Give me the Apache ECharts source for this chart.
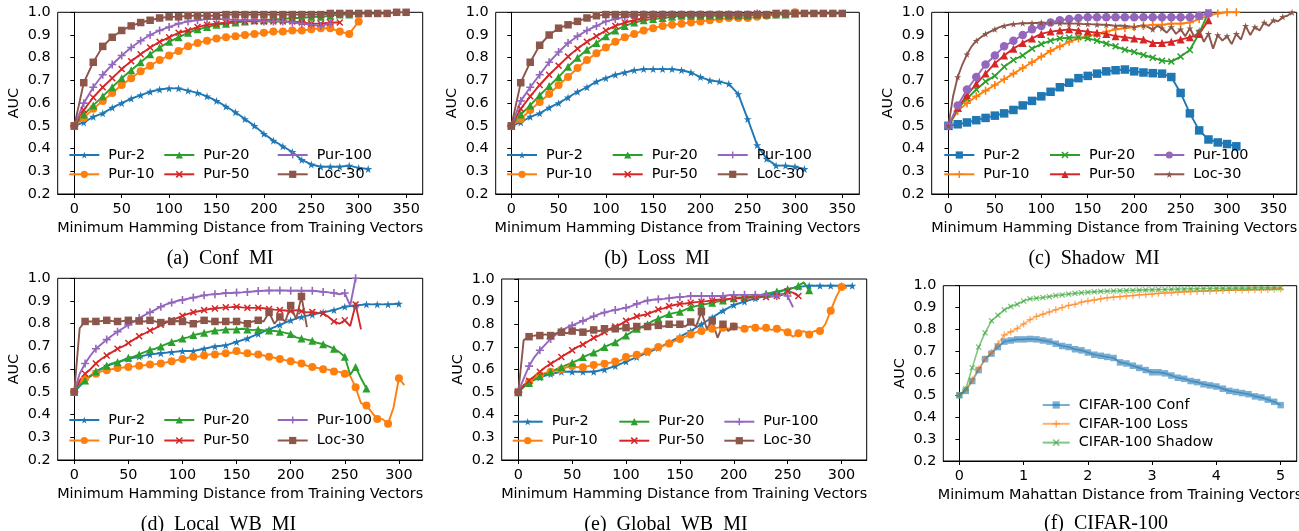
<!DOCTYPE html>
<html>
<head>
<meta charset="utf-8">
<script src="https://cdn.jsdelivr.net/npm/echarts@6/dist/echarts.min.js"></script>
<style>
  html, body { margin: 0; padding: 0; background: #fff; }
  #chart { width: 1299px; height: 531px; }
</style>
</head>
<body>
<div id="chart"></div>
<script>
// ---- data (AUC) ----
// step 10 unless noted
const confPur2 = [0.50,0.515,0.54,0.555,0.58,0.60,0.62,0.635,0.65,0.66,0.665,0.665,0.655,0.645,0.63,0.61,0.585,0.56,0.53,0.50,0.465,0.435,0.41,0.385,0.35,0.33,0.32,0.32,0.32,0.325,0.315,0.31]
const confPur10 = [0.50,0.535,0.575,0.61,0.645,0.68,0.71,0.74,0.765,0.79,0.81,0.83,0.85,0.865,0.875,0.885,0.89,0.895,0.90,0.905,0.91,0.915,0.915,0.92,0.92,0.925,0.93,0.93,0.915,0.905,0.96]
const confPur20 = [0.50,0.55,0.59,0.63,0.67,0.71,0.745,0.78,0.815,0.845,0.87,0.89,0.91,0.925,0.935,0.945,0.95,0.955,0.96,0.965,0.965,0.97,0.97,0.975,0.975,0.98,0.98,0.985,0.99,0.99,0.995]
const confPur50 = [0.50,0.57,0.625,0.67,0.71,0.75,0.785,0.815,0.845,0.87,0.89,0.91,0.92,0.935,0.945,0.95,0.955,0.96,0.96,0.96,0.96,0.96,0.96,0.96,0.955,0.95,0.95,0.955,0.955]
const confPur100 = [0.50,0.60,0.67,0.725,0.77,0.81,0.845,0.875,0.90,0.92,0.935,0.95,0.96,0.965,0.97,0.97,0.97,0.965,0.965,0.965,0.96,0.96,0.96,0.955,0.95,0.945,0.94,0.95]
const confLoc30 = [0.50,0.69,0.78,0.85,0.89,0.92,0.94,0.955,0.965,0.975,0.98,0.98,0.985,0.985,0.985,0.985,0.99,0.99,0.99,0.99,0.99,0.99,0.99,0.99,0.99,0.99,0.99,0.995,0.995,0.995,0.995,0.995,0.995,0.995,1.0,1.0]

const lossPur2 = [0.50,0.515,0.54,0.555,0.58,0.60,0.625,0.65,0.67,0.695,0.71,0.725,0.735,0.745,0.75,0.75,0.75,0.75,0.745,0.735,0.715,0.70,0.695,0.685,0.64,0.53,0.415,0.355,0.325,0.325,0.32,0.31]
const lossPur10 = [0.50,0.53,0.57,0.605,0.64,0.68,0.715,0.755,0.79,0.82,0.845,0.87,0.89,0.905,0.92,0.93,0.94,0.945,0.95,0.955,0.96,0.965,0.97,0.975,0.975,0.975,0.98,0.985,0.99,0.995,1.0]
const lossPur20 = [0.50,0.55,0.59,0.635,0.675,0.715,0.76,0.80,0.835,0.865,0.895,0.92,0.94,0.955,0.965,0.97,0.975,0.98,0.985,0.985,0.985,0.985,0.985,0.985,0.985,0.985,0.99,0.99,0.99,0.99,0.995]
const lossPur50 = [0.50,0.575,0.63,0.68,0.725,0.765,0.805,0.84,0.87,0.895,0.92,0.94,0.955,0.965,0.975,0.98,0.985,0.99,0.99,0.99,0.99,0.99,0.99,0.99,0.99,0.99,0.995]
const lossPur100 = [0.50,0.61,0.67,0.725,0.78,0.825,0.865,0.895,0.92,0.94,0.96,0.97,0.98,0.985,0.99,0.99,0.99,0.99,0.99,0.99,0.99,0.99,0.99,0.99,0.99,0.99,0.995]
const lossLoc30 = [0.50,0.69,0.78,0.855,0.90,0.93,0.945,0.96,0.975,0.985,0.99,0.99,0.99,0.99,0.99,0.99,0.99,0.99,0.99,0.99,0.99,0.99,0.99,0.99,0.99,0.99,0.99,0.99,0.995,0.995,0.995,0.995,0.995,0.995,0.995,0.995]

const shadowPur2 = [0.50,0.507,0.515,0.525,0.535,0.545,0.555,0.57,0.59,0.61,0.63,0.65,0.67,0.69,0.71,0.72,0.73,0.74,0.745,0.748,0.74,0.735,0.732,0.73,0.715,0.645,0.555,0.48,0.44,0.427,0.42,0.41]
const shadowPur10 = [0.50,0.565,0.60,0.63,0.655,0.68,0.705,0.73,0.755,0.78,0.805,0.83,0.85,0.87,0.885,0.895,0.905,0.915,0.925,0.93,0.935,0.94,0.945,0.945,0.95,0.95,0.955,0.97,0.985,0.995,1.0,1.0]
const shadowPur20 = [0.50,0.575,0.62,0.66,0.695,0.72,0.76,0.79,0.81,0.84,0.86,0.875,0.885,0.888,0.89,0.885,0.875,0.862,0.85,0.835,0.825,0.812,0.80,0.787,0.783,0.805,0.834,0.908,1.0]
const shadowPur50 = [0.50,0.58,0.635,0.685,0.73,0.775,0.81,0.84,0.865,0.885,0.905,0.915,0.92,0.925,0.92,0.915,0.91,0.905,0.895,0.89,0.885,0.88,0.865,0.865,0.87,0.88,0.89,0.905,0.965]
const shadowPur100 = [0.50,0.59,0.66,0.715,0.77,0.81,0.85,0.875,0.90,0.925,0.94,0.955,0.965,0.97,0.975,0.978,0.978,0.978,0.978,0.978,0.978,0.978,0.978,0.978,0.978,0.978,0.978,0.985,0.995]
// step 5
const shadowLoc30 = [0.50,0.63,0.715,0.77,0.815,0.85,0.875,0.89,0.905,0.915,
  0.925,0.935,0.94,0.945,0.948,0.95,0.952,0.952,0.953,0.953,
  0.955,0.953,0.953,0.952,0.952,0.951,0.95,0.95,0.95,0.948,
  0.948,0.947,0.946,0.945,0.945,0.943,0.94,0.942,0.94,0.938,
  0.935,0.94,0.942,0.935,0.925,0.94,0.93,0.91,0.935,0.905,
  0.925,0.895,0.93,0.89,0.92,0.87,0.905,0.84,0.90,0.875,
  0.895,0.86,0.905,0.88,0.94,0.90,0.935,0.92,0.955,0.94,
  0.965,0.96,0.98,0.985,1.0]

const localPur2 = [0.50,0.55,0.59,0.615,0.63,0.645,0.655,0.665,0.67,0.675,0.68,0.68,0.69,0.70,0.705,0.72,0.735,0.755,0.775,0.795,0.815,0.83,0.84,0.85,0.86,0.875,0.88,0.885,0.885,0.885,0.888]
// step 5
const localPur10 = [0.50,0.54,0.56,0.57,0.58,0.59,0.595,0.60,0.605,0.607,
  0.61,0.612,0.615,0.617,0.62,0.622,0.625,0.63,0.635,0.64,
  0.645,0.65,0.655,0.655,0.66,0.665,0.665,0.668,0.67,0.672,
  0.68,0.67,0.67,0.665,0.665,0.66,0.655,0.65,0.645,0.64,
  0.635,0.63,0.625,0.615,0.61,0.605,0.60,0.598,0.59,0.588,
  0.58,0.57,0.52,0.45,0.44,0.41,0.38,0.38,0.36,0.43,
  0.56,0.53]
const localPur20 = [0.50,0.53,0.55,0.57,0.59,0.60,0.615,0.625,0.63,0.64,
  0.65,0.655,0.665,0.675,0.685,0.69,0.70,0.71,0.72,0.725,
  0.735,0.74,0.75,0.755,0.76,0.765,0.77,0.772,0.775,0.775,
  0.775,0.778,0.775,0.772,0.775,0.77,0.77,0.768,0.765,0.76,
  0.755,0.74,0.735,0.73,0.725,0.715,0.71,0.70,0.69,0.675,
  0.655,0.575,0.61,0.56,0.515]
const localPur50 = [0.50,0.55,0.58,0.60,0.625,0.645,0.66,0.675,0.69,0.70,
  0.715,0.73,0.745,0.757,0.77,0.78,0.795,0.805,0.815,0.825,
  0.835,0.843,0.85,0.855,0.86,0.865,0.867,0.87,0.872,0.873,
  0.875,0.872,0.87,0.87,0.87,0.868,0.865,0.862,0.86,0.858,
  0.855,0.86,0.855,0.85,0.852,0.848,0.845,0.83,0.81,0.80,
  0.815,0.79,0.885,0.775]
const localPur100 = [0.50,0.58,0.625,0.66,0.69,0.71,0.73,0.748,0.765,0.78,
  0.795,0.81,0.825,0.838,0.85,0.862,0.875,0.885,0.893,0.90,
  0.905,0.91,0.915,0.92,0.925,0.928,0.93,0.932,0.935,0.935,
  0.937,0.938,0.94,0.942,0.944,0.945,0.946,0.946,0.946,0.946,
  0.945,0.946,0.945,0.945,0.945,0.943,0.94,0.938,0.935,0.93,
  0.935,0.88,1.0]
const localLoc30 = [0.50,0.78,0.81,0.81,0.81,0.812,0.815,0.812,0.81,0.812,
  0.815,0.81,0.812,0.81,0.815,0.81,0.805,0.81,0.81,0.812,
  0.81,0.805,0.80,0.81,0.815,0.81,0.81,0.805,0.81,0.805,
  0.81,0.805,0.80,0.81,0.815,0.81,0.85,0.80,0.83,0.81,
  0.88,0.82,0.92,0.785]

const globalPur2 = [0.50,0.545,0.565,0.58,0.59,0.59,0.59,0.59,0.60,0.615,0.635,0.655,0.675,0.695,0.72,0.745,0.77,0.80,0.83,0.86,0.885,0.90,0.915,0.925,0.94,0.955,0.965,0.97,0.97,0.97,0.97,0.97]
// step 5
const globalPur10 = [0.50,0.53,0.545,0.56,0.575,0.585,0.59,0.595,0.60,0.61,
  0.615,0.61,0.61,0.615,0.62,0.622,0.625,0.63,0.635,0.64,
  0.655,0.66,0.665,0.67,0.68,0.69,0.70,0.705,0.715,0.725,
  0.735,0.745,0.755,0.765,0.77,0.775,0.78,0.785,0.785,0.78,
  0.79,0.785,0.78,0.79,0.785,0.78,0.785,0.775,0.78,0.775,
  0.765,0.745,0.76,0.77,0.755,0.77,0.77,0.80,0.86,0.92,
  0.965,0.96]
const globalPur20 = [0.50,0.525,0.54,0.555,0.57,0.58,0.59,0.60,0.61,0.62,
  0.63,0.64,0.655,0.665,0.675,0.685,0.70,0.71,0.72,0.735,
  0.75,0.765,0.78,0.79,0.80,0.815,0.825,0.835,0.845,0.85,
  0.855,0.865,0.875,0.88,0.885,0.89,0.895,0.90,0.905,0.91,
  0.915,0.918,0.92,0.922,0.925,0.93,0.935,0.94,0.945,0.95,
  0.955,0.96,0.97,0.985,0.95]
const globalPur50 = [0.50,0.53,0.55,0.57,0.59,0.61,0.625,0.64,0.655,0.67,
  0.685,0.70,0.71,0.725,0.74,0.75,0.765,0.78,0.79,0.80,
  0.815,0.825,0.835,0.84,0.845,0.855,0.865,0.87,0.88,0.885,
  0.89,0.892,0.895,0.898,0.90,0.902,0.905,0.908,0.91,0.912,
  0.915,0.915,0.915,0.918,0.92,0.92,0.92,0.922,0.925,0.93,
  0.945,0.94,0.925]
const globalPur100 = [0.50,0.56,0.615,0.655,0.685,0.71,0.735,0.755,0.77,0.785,
  0.795,0.805,0.815,0.825,0.835,0.845,0.852,0.858,0.863,0.868,
  0.873,0.88,0.89,0.898,0.905,0.908,0.91,0.912,0.915,0.918,
  0.92,0.922,0.925,0.925,0.925,0.925,0.925,0.925,0.925,0.928,
  0.93,0.93,0.93,0.93,0.93,0.93,0.93,0.925,0.925,0.935,
  0.925,0.875]
const globalLoc30 = [0.50,0.73,0.745,0.75,0.75,0.755,0.75,0.76,0.765,0.76,
  0.77,0.775,0.765,0.77,0.775,0.77,0.78,0.775,0.78,0.78,
  0.785,0.78,0.79,0.785,0.79,0.80,0.795,0.79,0.80,0.795,
  0.80,0.79,0.81,0.79,0.855,0.78,0.815,0.74,0.80,0.77,
  0.79]

// step 0.1, distance 0..5
const cifarConf = [0.50,0.52,0.565,0.615,0.665,0.69,0.72,0.745,0.75,0.755,
  0.755,0.757,0.755,0.75,0.745,0.735,0.725,0.72,0.71,0.705,
  0.695,0.685,0.68,0.675,0.67,0.65,0.645,0.635,0.625,0.615,
  0.605,0.605,0.60,0.59,0.58,0.575,0.565,0.56,0.55,0.545,
  0.54,0.53,0.52,0.515,0.51,0.505,0.495,0.49,0.48,0.47,
  0.455]
const cifarLoss = [0.50,0.525,0.57,0.62,0.665,0.695,0.735,0.775,0.79,0.805,
  0.825,0.845,0.86,0.87,0.88,0.89,0.90,0.91,0.915,0.925,
  0.93,0.935,0.94,0.945,0.948,0.95,0.953,0.955,0.958,0.96,
  0.962,0.965,0.967,0.968,0.97,0.972,0.973,0.974,0.975,0.976,
  0.977,0.978,0.979,0.98,0.98,0.981,0.982,0.982,0.983,0.984,
  0.985]
const cifarShadow = [0.50,0.53,0.625,0.72,0.785,0.84,0.865,0.89,0.905,0.915,
  0.93,0.94,0.943,0.946,0.95,0.955,0.958,0.962,0.965,0.968,
  0.97,0.972,0.974,0.975,0.976,0.977,0.978,0.979,0.98,0.981,
  0.982,0.983,0.983,0.984,0.985,0.985,0.986,0.986,0.987,0.987,
  0.988,0.988,0.988,0.989,0.989,0.989,0.99,0.99,0.99,0.99,
  0.99]

const purNames = ['Pur-2', 'Pur-10', 'Pur-20', 'Pur-50', 'Pur-100', 'Loc-30']
const cifarNames = ['CIFAR-100 Conf', 'CIFAR-100 Loss', 'CIFAR-100 Shadow']
const ticks350 = [0, 50, 100, 150, 200, 250, 300, 350]
const ticks300 = [0, 50, 100, 150, 200, 250, 300]
const ticks5 = [0, 1, 2, 3, 4, 5]
const yTicks = [0.2, 0.3, 0.4, 0.5, 0.6, 0.7, 0.8, 0.9, 1.0]

// ---- styling ----
const TAB = ['#1f77b4', '#ff7f0e', '#2ca02c', '#d62728', '#9467bd', '#8c564b']
const STAR = 'path://M50,0L61,35L98,35L68,57L79,91L50,70L21,91L32,57L2,35L39,35Z'
const PLUS = 'path://M4,0H6V4H10V6H6V10H4V6H0V4H4Z'
const CROSS = 'path://M1.5,0L5,3.5L8.5,0L10,1.5L6.5,5L10,8.5L8.5,10L5,6.5L1.5,10L0,8.5L3.5,5L0,1.5Z'
const SANS = 'DejaVu Sans'
const HAMMING = 'Minimum Hamming Distance from Training Vectors'

const symA = [STAR, 'circle', 'triangle', CROSS, PLUS, 'rect']
const sizeA = [8, 8, 8, 7, 8, 7.5]
const symC = ['rect', PLUS, CROSS, 'triangle', 'circle', STAR]
const sizeC = [8.5, 8, 7, 8, 8.5, 7]

// captions use double spaces: LaTeX sets wider word gaps than the font does
const panels = [
  { id: 'a', caption: '(a)  Conf  MI', box: [57.7, 12.3, 365, 181.7], xr: [-17.5, 367.5], ticks: ticks350, xName: HAMMING,
    lines: [[confPur2, 10], [confPur10, 10], [confPur20, 10], [confPur50, 10], [confPur100, 10], [confLoc30, 10]],
    names: purNames, sym: symA, size: sizeA, legLeft: [68.3, 163.3, 276.7], legTop: 148, legGap: 5.3, cap: [220, 249] },
  { id: 'b', caption: '(b)  Loss  MI', box: [495.7, 12.3, 363.6, 181.7], xr: [-16.5, 368], ticks: ticks350, xName: HAMMING,
    lines: [[lossPur2, 10], [lossPur10, 10], [lossPur20, 10], [lossPur50, 10], [lossPur100, 10], [lossLoc30, 10]],
    names: purNames, sym: symA, size: sizeA, legLeft: [506, 611.7, 716.7], legTop: 148, legGap: 5.3, cap: [657, 249] },
  { id: 'c', caption: '(c)  Shadow  MI', box: [931.7, 12.3, 365, 181.7], xr: [-18, 375], ticks: ticks350, xName: HAMMING,
    lines: [[shadowPur2, 10], [shadowPur10, 10], [shadowPur20, 10], [shadowPur50, 10], [shadowPur100, 10], [shadowLoc30, 5]],
    names: purNames, sym: symC, size: sizeC, legLeft: [943.3, 1049, 1153.3], legTop: 148, legGap: 5.3, cap: [1094, 249] },
  { id: 'd', caption: '(d)  Local  WB  MI', box: [57.7, 278.3, 365, 181.7], xr: [-15.3, 322], ticks: ticks300, xName: HAMMING,
    lines: [[localPur2, 10], [localPur10, 5], [localPur20, 5], [localPur50, 5], [localPur100, 5], [localLoc30, 5]],
    names: purNames, sym: symA, size: sizeA, legLeft: [68.3, 163.3, 276.7], legTop: 413, legGap: 6.5, cap: [218.5, 515] },
  { id: 'e', caption: '(e)  Global  WB  MI', box: [501.7, 279, 365, 181], xr: [-15.4, 323.4], ticks: ticks300, xName: HAMMING,
    lines: [[globalPur2, 10], [globalPur10, 5], [globalPur20, 5], [globalPur50, 5], [globalPur100, 5], [globalLoc30, 5]],
    names: purNames, sym: symA, size: sizeA, legLeft: [511.7, 618.3, 723.3], legTop: 414.7, legGap: 5, cap: [666, 515] },
  { id: 'f', caption: '(f)  CIFAR-100', box: [943.3, 285.7, 353.4, 175.3], xr: [-0.25, 5.25], ticks: ticks5,
    xName: 'Minimum Mahattan Distance from Training Vectors',
    lines: [[cifarConf, 0.1], [cifarLoss, 0.1], [cifarShadow, 0.1]],
    names: cifarNames, sym: ['rect', PLUS, CROSS], size: [6.5, 7, 6], legLeft: [1041.7], legTop: 398, legGap: 4.8, cap: [1106, 513.5], faded: true }
]

function points(ys, step) {
  const every = step === 5 ? 2 : 1
  return ys.map((y, i) => {
    const item = { value: [Math.round(i * step * 100) / 100, y] }
    if (i % every !== 0) item.symbol = 'none'
    return item
  })
}

const TXT = { fontFamily: SANS, fontSize: 14.4, color: '#000' }
const grid = [], xAxis = [], yAxis = [], series = [], legend = [], title = []

panels.forEach((p, i) => {
  // outerBoundsMode none: keep the plot box where it is even if the axis name runs off the page
  grid.push({ left: p.box[0], top: p.box[1], width: p.box[2], height: p.box[3],
    outerBoundsMode: 'none', show: true, borderColor: '#000', borderWidth: 1 })
  xAxis.push({
    type: 'value', gridIndex: i, min: p.xr[0], max: p.xr[1],
    name: p.xName, nameLocation: 'middle', nameGap: 27, nameTextStyle: TXT,
    axisLine: { lineStyle: { color: '#000', width: 1 } },
    axisTick: { customValues: p.ticks, length: 4, lineStyle: { color: '#000' } },
    axisLabel: { customValues: p.ticks, margin: 8, ...TXT },
    splitLine: { show: false }
  })
  yAxis.push({
    type: 'value', gridIndex: i, min: 0.2, max: 1.0,
    name: 'AUC', nameLocation: 'middle', nameGap: 36, nameTextStyle: TXT,
    axisLine: { show: true, lineStyle: { color: '#000', width: 1 } },
    axisTick: { customValues: yTicks, length: 4, lineStyle: { color: '#000' } },
    axisLabel: { customValues: yTicks, margin: 7, ...TXT, formatter: v => v.toFixed(1) },
    splitLine: { show: false }
  })
  p.lines.forEach(([ys, step], k) => {
    const op = p.faded ? 0.6 : 1
    series.push({
      type: 'line', name: p.id + '|' + p.names[k], xAxisIndex: i, yAxisIndex: i,
      data: points(ys, step), symbol: p.sym[k], symbolSize: p.size[k], showAllSymbol: true,
      color: TAB[k], lineStyle: { width: p.faded ? 1.6 : 1.9, opacity: op }, itemStyle: { color: TAB[k], opacity: op },
      emphasis: { disabled: true }
    })
  })
  // matplotlib-style legend: columns of two
  const per = p.faded ? 3 : 2
  p.legLeft.forEach((lx, c) => {
    legend.push({
      orient: 'vertical', left: lx, top: p.legTop, padding: 0,
      itemWidth: p.faded ? 27 : 30, itemHeight: 9, itemGap: p.legGap,
      selectedMode: false,
      data: p.names.slice(c * per, c * per + per).map(n => p.id + '|' + n),
      formatter: n => n.split('|')[1],
      textStyle: { ...TXT, lineHeight: 14, padding: [0, 0, 0, 4] }
    })
  })
  title.push({
    text: p.caption, left: p.cap[0], top: p.cap[1], textAlign: 'center', padding: 0,
    textStyle: { fontFamily: 'Liberation Serif', fontSize: 20, fontWeight: 'normal', color: '#000' }
  })
})

const myChart = echarts.init(document.getElementById('chart'))
myChart.setOption({
  animation: false,
  backgroundColor: '#fff',
  textStyle: { fontFamily: SANS },
  title, grid, xAxis, yAxis, legend, series
})
window.addEventListener('resize', () => myChart.resize())
</script>
</body>
</html>
